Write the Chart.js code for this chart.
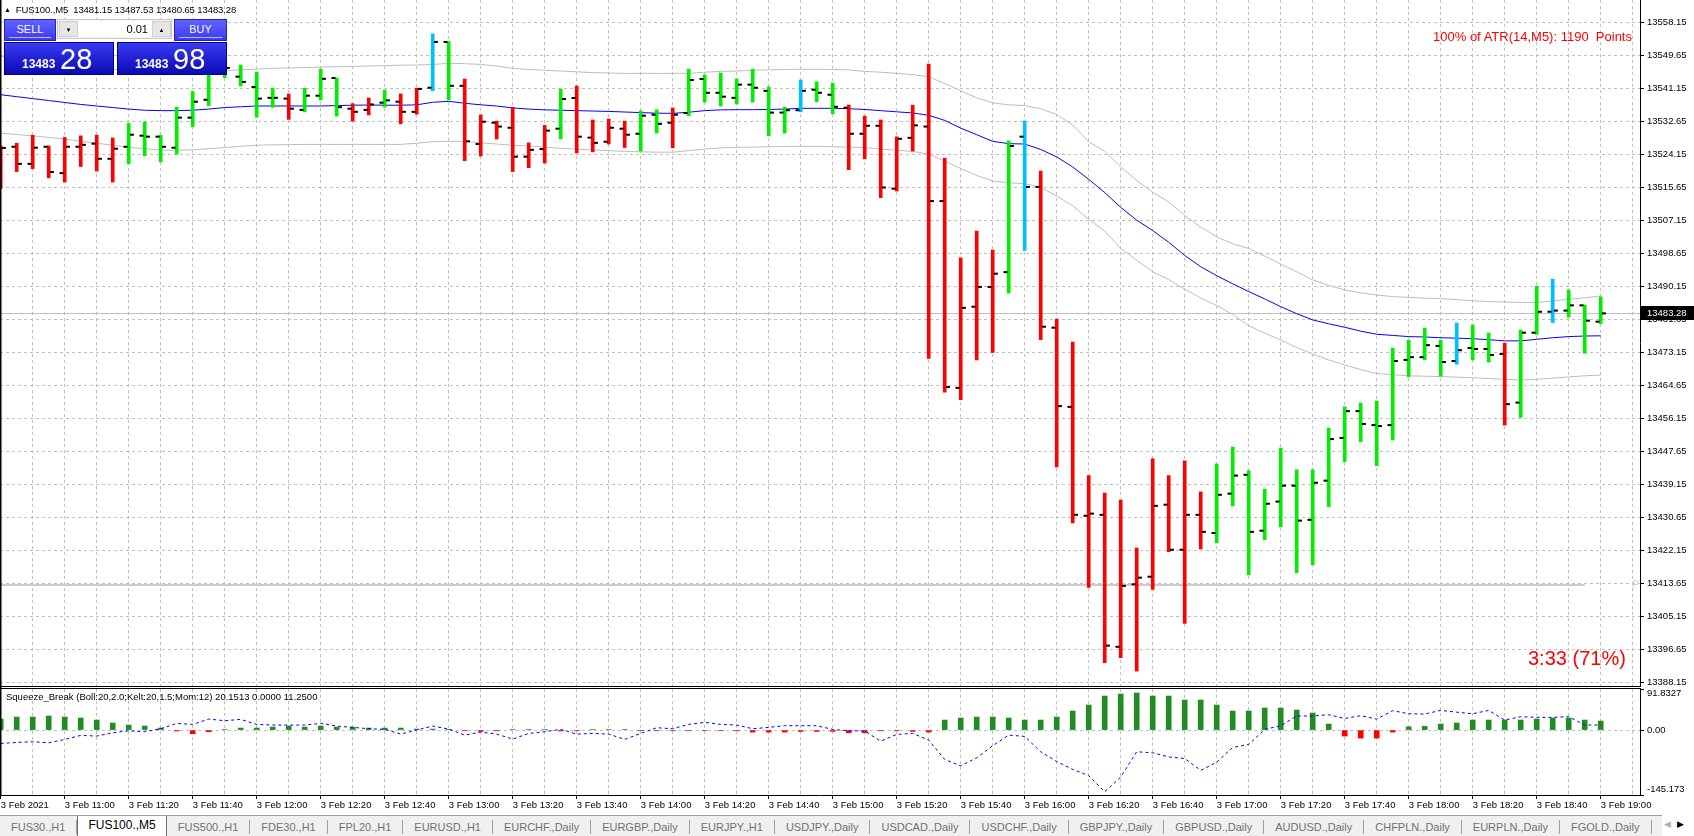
<!DOCTYPE html>
<html lang="en">
<head>
<meta charset="UTF-8">
<title>FUS100.,M5</title>
<script src="https://cdn.jsdelivr.net/npm/chart.js"></script>
<style>
  body { margin:0; width:1694px; height:836px; overflow:hidden; background:#fff; position:relative;
         font-family:"Liberation Sans", Arial, sans-serif; }
  canvas { position:absolute; left:0; }
  #mainChart { top:0; }
  #subChart { top:686px; }
  .txt { position:absolute; white-space:nowrap; z-index:2; }
  #title { left:4px; top:4px; font-size:9.5px; color:#000; letter-spacing:-0.1px; }
  #title b { font-size:7px; font-weight:normal; margin-right:5px; position:relative; top:-1px; }
  #atr { right:62px; top:29px; font-size:13px; color:#ff0000; }
  #timer { left:1528px; top:647px; font-size:20px; color:#ff0000; }
  #subTitle { left:6px; top:691px; font-size:9.5px; color:#000; }
  #trade { position:absolute; left:4px; top:19px; width:223px; height:56px; z-index:3; }
  #trade div { position:absolute; box-sizing:border-box; }
  .tbtn { top:0; height:22px; background:linear-gradient(#6262ff, #3b3bf2); border:1px solid #2222c8;
          color:#fff; font-size:11px; text-align:center; line-height:19px; }
  .tbtn i { position:absolute; left:4px; right:4px; bottom:2px; height:1px; background:#b8b8ff; }
  .lot { top:0; left:53px; width:115px; height:20px; background:#f3f3f3; border:1px solid #c8c8c8; }
  .lot .arr { top:1px; width:19px; height:16px; font-size:6px; color:#000; text-align:center; line-height:16px;
              background:#e6e6e6; border:1px solid #d0d0d0; }
  .lot .field { top:1px; left:20px; width:74px; height:16px; background:#fff; font-size:11px; color:#000;
                text-align:right; padding-right:4px; line-height:16px; }
  .price { top:23px; height:33px; background:linear-gradient(#3a3af2, #0a0ab4); border:1px solid #00008c; color:#fff; }
  .price span { position:absolute; left:17px; bottom:3px; font-size:12px; font-weight:bold; }
  .price em { position:absolute; left:55px; bottom:0px; font-size:29px; font-style:normal; line-height:30px; }
  #tabs { position:absolute; left:0; top:815px; width:1662px; height:21px; background:#f0f0f0;
          border-top:1px solid #a0a0a0; overflow:hidden; white-space:nowrap; font-size:11px; color:#707070; z-index:2; }
  .tab { display:inline-block; padding:0 11px; height:14px; line-height:14px; margin-top:4px;
         border-right:1px solid #a0a0a0; vertical-align:top; }
  .tab.active { background:#fff; color:#000; border:1px solid #707070; border-top:none; margin-top:0;
                height:20px; line-height:19px; font-size:12px; padding:0 10px; }
  #tabArrows { position:absolute; left:1664px; top:819px; font-size:9px; color:#000; z-index:2; }
  #tabArrows span { color:#b0b0b0; margin-right:6px; }
</style>
</head>
<body>
<canvas id="mainChart" width="1694" height="686"></canvas>
<canvas id="subChart" width="1694" height="130"></canvas>

<div id="title" class="txt"><b>&#9650;</b>FUS100.,M5&nbsp; 13481.15 13487.53 13480.65 13483.28</div>
<div id="trade">
  <div class="tbtn" style="left:0;width:52px;">SELL<i></i></div>
  <div class="lot">
    <div class="arr" style="left:1px;">&#9660;</div>
    <div class="field">0.01</div>
    <div class="arr" style="left:94px;">&#9650;</div>
  </div>
  <div class="tbtn" style="left:170px;width:53px;">BUY<i></i></div>
  <div class="price" style="left:0;width:110px;"><span>13483</span><em>28</em></div>
  <div class="price" style="left:113px;width:110px;"><span>13483</span><em>98</em></div>
</div>
<div id="atr" class="txt">100% of ATR(14,M5): 1190&nbsp; Points</div>
<div id="timer" class="txt">3:33 (71%)</div>
<div id="subTitle" class="txt">Squeeze_Break (Boll:20,2.0;Kelt:20,1.5;Mom:12) 20.1513 0.0000 11.2500</div>

<div id="tabs"><span class="tab">FUS30.,H1</span><span class="tab active">FUS100.,M5</span><span class="tab">FUS500.,H1</span><span class="tab">FDE30.,H1</span><span class="tab">FPL20.,H1</span><span class="tab">EURUSD.,H1</span><span class="tab">EURCHF.,Daily</span><span class="tab">EURGBP.,Daily</span><span class="tab">EURJPY.,H1</span><span class="tab">USDJPY.,Daily</span><span class="tab">USDCAD.,Daily</span><span class="tab">USDCHF.,Daily</span><span class="tab">GBPJPY.,Daily</span><span class="tab">GBPUSD.,Daily</span><span class="tab">AUDUSD.,Daily</span><span class="tab">CHFPLN.,Daily</span><span class="tab">EURPLN.,Daily</span><span class="tab">FGOLD.,Daily</span><span class="tab">FO</span></div>
<div id="tabArrows"><span>&#9664;</span>&#9654;</div>

<script>
// M5 bars, 3 Feb 2021 10:40 .. 19:00
const opens = [13526.3, 13526.2, 13521.8, 13526.2, 13519.4, 13526.2, 13527.0, 13523.1, 13526.2, 13529.05,
  13528.8, 13525.95, 13533.7, 13538.3, 13545.2, 13544.25, 13541.6, 13538.8, 13538.6, 13535.7,
  13539.35, 13543.9, 13536.0, 13535.7, 13537.55, 13537.8, 13535.2, 13541.4, 13553.2, 13541.9,
  13526.9, 13532.4, 13531.1, 13523.65, 13525.6, 13530.85, 13538.75, 13528.55, 13527.5, 13530.85,
  13529.55, 13534.45, 13532.4, 13534.9, 13543.65, 13540.1, 13538.8, 13542.2, 13540.6, 13535.0,
  13535.6, 13540.9, 13539.6, 13536.25, 13529.55, 13531.6, 13515.4, 13528.5, 13531.4, 13512.2,
  13464.1, 13485.0, 13490.1, 13493.9, 13528.8, 13515.85, 13479.6, 13459.2, 13431.15, 13431.4,
  13397.4, 13413.5, 13415.45, 13434.0, 13422.4, 13431.4, 13426.7, 13436.85, 13441.7, 13427.3,
  13434.8, 13438.9, 13430.1, 13440.2, 13451.2, 13458.1, 13454.5, 13454.5, 13471.3, 13472.0,
  13474.9, 13471.0, 13474.35, 13474.1, 13472.8, 13460.3, 13478.3, 13483.7, 13484.0, 13485.35,
  13481.15];
const highs = [13526.4, 13527.1, 13529.15, 13526.4, 13528.6, 13529.0, 13529.2, 13528.45, 13532.2, 13532.6,
  13529.15, 13536.35, 13540.4, 13545.5, 13549.5, 13547.25, 13545.45, 13541.3, 13539.8, 13541.3,
  13546.2, 13543.9, 13537.3, 13538.75, 13540.8, 13539.8, 13541.3, 13555.25, 13553.3, 13543.65,
  13534.4, 13532.8, 13536.35, 13527.2, 13531.7, 13541.05, 13541.85, 13533.1, 13533.35, 13532.8,
  13535.4, 13535.7, 13536.2, 13546.2, 13544.7, 13545.2, 13543.65, 13546.2, 13541.6, 13536.4,
  13543.4, 13542.9, 13542.6, 13536.95, 13534.1, 13533.1, 13528.75, 13536.9, 13547.5, 13523.3,
  13497.6, 13504.5, 13499.6, 13527.7, 13532.8, 13519.95, 13481.8, 13475.9, 13441.5, 13437.0,
  13435.2, 13422.85, 13445.8, 13441.5, 13445.3, 13437.3, 13444.5, 13448.85, 13442.75, 13438.0,
  13448.6, 13443.0, 13443.0, 13453.75, 13459.2, 13460.2, 13460.7, 13474.35, 13476.4, 13479.5,
  13476.4, 13480.8, 13480.3, 13478.2, 13475.6, 13479.0, 13490.3, 13492.1, 13489.3, 13485.4,
  13487.53];
const lows = [13515.5, 13519.8, 13520.55, 13518.2, 13517.1, 13521.1, 13519.95, 13517.1, 13521.8, 13523.9,
  13522.3, 13524.3, 13531.4, 13536.8, 13544.0, 13541.85, 13533.8, 13536.35, 13533.25, 13535.2,
  13538.25, 13534.1, 13532.8, 13534.4, 13536.4, 13532.1, 13534.6, 13540.6, 13538.25, 13522.6,
  13523.8, 13528.2, 13519.8, 13520.8, 13522.0, 13528.25, 13524.6, 13524.9, 13526.9, 13526.0,
  13525.1, 13529.7, 13525.95, 13534.2, 13537.7, 13536.7, 13537.2, 13537.7, 13529.0, 13529.7,
  13535.2, 13537.8, 13534.7, 13520.3, 13523.1, 13513.1, 13514.8, 13525.1, 13471.7, 13463.0,
  13461.05, 13471.3, 13473.2, 13488.5, 13499.5, 13476.5, 13443.7, 13429.3, 13412.7, 13393.3,
  13394.6, 13391.15, 13412.2, 13421.9, 13403.45, 13422.6, 13424.2, 13433.7, 13415.95, 13425.0,
  13428.3, 13416.5, 13418.5, 13433.5, 13445.1, 13450.2, 13444.05, 13450.65, 13467.0, 13471.35,
  13467.1, 13470.2, 13471.3, 13470.75, 13454.5, 13456.5, 13477.9, 13480.9, 13482.3, 13473.0,
  13480.65];
const closes = [13525.9, 13521.8, 13525.95, 13519.7, 13526.2, 13526.7, 13523.1, 13525.7, 13529.3, 13528.8,
  13526.2, 13533.7, 13537.8, 13545.0, 13546.5, 13542.9, 13538.6, 13538.8, 13536.0, 13539.35,
  13543.7, 13536.4, 13535.2, 13537.1, 13538.15, 13535.2, 13541.1, 13553.2, 13541.9, 13527.6,
  13532.65, 13531.4, 13523.65, 13525.4, 13530.35, 13538.5, 13528.8, 13527.2, 13531.1, 13529.3,
  13534.2, 13532.1, 13534.45, 13543.4, 13540.1, 13539.1, 13542.2, 13541.4, 13535.0, 13535.6,
  13540.6, 13540.1, 13536.5, 13529.55, 13531.6, 13515.7, 13528.25, 13531.7, 13512.2, 13464.3,
  13484.7, 13490.1, 13493.5, 13526.4, 13515.85, 13479.85, 13459.4, 13431.4, 13431.7, 13397.7,
  13413.1, 13415.2, 13433.7, 13422.4, 13431.4, 13427.0, 13436.55, 13441.5, 13427.0, 13434.25,
  13438.9, 13429.9, 13439.65, 13450.9, 13458.1, 13454.8, 13454.25, 13471.0, 13472.0, 13475.1,
  13470.75, 13473.8, 13474.1, 13472.55, 13459.9, 13478.3, 13483.7, 13484.0, 13485.35, 13481.4,
  13483.28];
// bar colour state from the indicator: d = down, u = up, b = breakout
const barState = ('dddddddd' + 'uuuuuuuuuu' + 'd' + 'uuu' + 'dd' + 'u' + 'dd' + 'b' + 'u' + 'dddddd' +
  'u' + 'dddd' + 'uu' + 'd' + 'uuuuuuu' + 'b' + 'uu' + 'dddddddddd' + 'u' + 'b' + 'ddddddddddd' +
  'uuuuuuuuuuuuuuu' + 'b' + 'uu' + 'd' + 'uu' + 'b' + 'uuu').split('');

const ma = [13539.6, 13539.1, 13538.6, 13538.1, 13537.6, 13537.1, 13536.7, 13536.3, 13535.9, 13535.6,
  13535.5, 13535.5, 13535.6, 13535.9, 13536.3, 13536.5, 13536.7, 13536.7, 13536.7, 13536.7,
  13536.7, 13536.8, 13536.9, 13536.95, 13536.9, 13536.9, 13537.0, 13537.65, 13537.9, 13537.4,
  13537.0, 13536.7, 13536.2, 13535.9, 13535.7, 13535.6, 13535.5, 13535.4, 13535.3, 13535.15,
  13535.0, 13534.85, 13534.8, 13535.1, 13535.5, 13535.7, 13535.75, 13535.75, 13535.8, 13535.9,
  13536.1, 13536.1, 13536.1, 13536.0, 13535.8, 13535.5, 13535.2, 13534.9, 13534.3, 13533.0,
  13531.0, 13529.3, 13527.6, 13527.0, 13526.9, 13525.5, 13523.6, 13521.0, 13517.8, 13514.4,
  13510.6, 13507.3, 13504.6, 13501.6, 13498.2, 13495.3, 13493.0, 13490.9, 13488.9, 13487.0,
  13485.0, 13483.2, 13481.6, 13480.6, 13479.7, 13478.7, 13477.9, 13477.6, 13477.3, 13477.2,
  13477.0, 13476.9, 13476.75, 13476.5, 13476.2, 13476.2, 13476.6, 13477.0, 13477.3, 13477.45,
  13477.5];
const upperBand = [13549.5, 13549.2, 13548.2, 13547.8, 13547.0, 13546.6, 13546.3, 13546.2, 13545.8, 13545.7,
  13545.6, 13545.6, 13545.7, 13545.8, 13545.8, 13546.0, 13546.2, 13546.4, 13546.5, 13546.6,
  13546.7, 13546.8, 13546.9, 13547.0, 13547.1, 13547.2, 13547.25, 13547.4, 13547.7, 13547.6,
  13547.4, 13547.0, 13546.4, 13546.1, 13545.9, 13545.7, 13545.5, 13545.3, 13545.2, 13545.1,
  13545.1, 13545.1, 13545.1, 13545.1, 13545.4, 13545.6, 13545.7, 13545.9, 13546.0, 13546.1,
  13546.15, 13546.15, 13546.1, 13546.0, 13545.6, 13545.4, 13545.1, 13544.8, 13544.2, 13542.5,
  13540.6, 13538.8, 13537.5, 13537.0, 13536.8, 13536.0, 13534.5, 13531.8, 13527.5, 13525.0,
  13521.0, 13517.5, 13514.5, 13512.0, 13508.5, 13505.5, 13503.0, 13501.2, 13500.0, 13498.0,
  13496.0, 13494.0, 13491.9, 13490.5, 13489.3, 13488.6, 13488.0, 13487.6, 13487.4, 13487.2,
  13487.1, 13486.8, 13486.55, 13486.3, 13486.2, 13486.1, 13486.1, 13486.5, 13486.9, 13487.3,
  13487.75];
const lowerBand = [13529.7, 13529.35, 13529.0, 13528.6, 13528.2, 13527.6, 13527.1, 13526.6, 13526.05, 13525.7,
  13525.35, 13525.3, 13525.4, 13525.7, 13526.0, 13526.3, 13526.6, 13526.7, 13526.75, 13526.8,
  13526.8, 13526.8, 13526.8, 13526.8, 13526.8, 13526.8, 13527.1, 13527.5, 13527.6, 13527.6,
  13527.2, 13526.9, 13526.6, 13526.4, 13526.1, 13525.8, 13525.6, 13525.35, 13525.2, 13525.0,
  13524.9, 13524.8, 13524.8, 13525.2, 13525.6, 13525.9, 13526.05, 13526.1, 13526.2, 13526.25,
  13526.3, 13526.3, 13526.2, 13526.1, 13526.0, 13525.6, 13525.3, 13525.0, 13524.3, 13522.5,
  13520.6, 13518.8, 13517.4, 13516.9, 13516.7, 13515.8, 13513.5, 13511.0, 13507.5, 13504.5,
  13500.0, 13497.0, 13494.0, 13492.0, 13489.5, 13487.2, 13485.3, 13483.0, 13480.1, 13478.2,
  13476.4, 13474.5, 13472.8, 13471.3, 13470.0, 13468.8, 13467.8, 13467.5, 13467.2, 13467.1,
  13467.0, 13466.85, 13466.7, 13466.5, 13466.3, 13466.1, 13466.3, 13466.6, 13466.9, 13467.2,
  13467.4];

// Squeeze_Break sub window
const momentum = [24.6, 29.1, 29.1, 31.4, 29.1, 26.9, 22.4, 15.7, 11.2, 9.0,
  4.5, -2.0, -8.2, -3.7, 1.0, 4.5, 4.5, 6.7, 9.0, 6.7,
  9.0, 6.7, 6.7, 4.5, 4.5, 4.5, 2.2, 2.2, 1.5, -1.5,
  -3.0, -1.5, 1.0, 1.0, 1.0, -2.0, -1.5, 1.0, 1.0, 1.0,
  -1.5, -1.0, -1.0, -1.0, -1.0, -1.0, -1.5, -4.5, -4.5, -4.5,
  -3.0, -3.0, -3.0, -6.0, -6.0, -1.5, -1.5, -3.0, -4.5, 22.4,
  26.9, 29.1, 29.1, 26.9, 22.4, 22.4, 29.1, 42.6, 56.0, 76.1,
  80.6, 82.9, 76.1, 76.1, 67.2, 67.2, 56.0, 42.6, 42.6, 49.3,
  49.3, 44.8, 38.1, 13.4, -13.4, -17.9, -17.9, -4.5, 7.4, 8.2,
  13.4, 15.7, 22.4, 22.4, 22.4, 22.4, 24.6, 26.9, 26.9, 22.4,
  20.1513];
const signal = [-29.9, -27.6, -26.1, -28.4, -20.9, -11.9, -13.4, -6.0, -1.5, -3.7,
  3.0, 14.9, 12.7, 24.6, 20.9, 23.9, 12.7, 11.2, 11.2, 11.2,
  14.9, 9.0, 6.0, 3.0, 1.5, -9.0, 0.0, 9.0, 2.2, -11.2,
  -4.5, -9.0, -20.2, -7.5, -3.7, 1.5, -9.0, -7.5, -9.0, -20.9,
  -7.5, 5.2, 3.0, 12.7, 17.2, 12.7, 11.2, 3.0, 6.0, 9.7,
  9.7, 9.7, 1.5, -1.5, -2.2, -24.6, -9.7, -7.5, -22.4, -65.7,
  -80.0, -62.0, -35.0, -11.2, -14.2, -48.5, -70.0, -88.0, -102.0, -138.0,
  -105.0, -48.5, -50.8, -60.0, -63.5, -90.0, -72.0, -38.8, -32.1, 1.5,
  9.7, 31.4, 31.4, 34.3, 26.1, 32.1, 24.6, 43.3, 36.5, 35.8,
  44.0, 40.0, 36.5, 44.0, 22.4, 29.9, 28.4, 28.4, 29.9, 11.25,
  11.25];

const priceTicks = [13388.15, 13396.65, 13405.15, 13413.65, 13422.15, 13430.65, 13439.15, 13447.65,
  13456.15, 13464.65, 13473.15, 13481.65, 13490.15, 13498.65, 13507.15, 13515.65, 13524.15,
  13532.65, 13541.15, 13549.65, 13558.15];
const subTicks = [-145.173, 0, 91.8327];
const subTickLabels = ['-145.173', '0.00', '91.8327'];
const timeLabels = ['3 Feb 2021', '3 Feb 11:00', '3 Feb 11:20', '3 Feb 11:40', '3 Feb 12:00', '3 Feb 12:20',
  '3 Feb 12:40', '3 Feb 13:00', '3 Feb 13:20', '3 Feb 13:40', '3 Feb 14:00', '3 Feb 14:20', '3 Feb 14:40',
  '3 Feb 15:00', '3 Feb 15:20', '3 Feb 15:40', '3 Feb 16:00', '3 Feb 16:20', '3 Feb 16:40', '3 Feb 17:00',
  '3 Feb 17:20', '3 Feb 17:40', '3 Feb 18:00', '3 Feb 18:20', '3 Feb 18:40', '3 Feb 19:00'];
const pivotLevel = 13413.2;   // PP line
const pivotLastBar = 99;

const FONT = '"Liberation Sans", Arial, sans-serif';
Chart.defaults.font.family = FONT;
Chart.defaults.font.size = 9.5;

const idx = opens.map((_, i) => i);
const lastPrice = closes[closes.length - 1];
const stateColor = { d: '#ff0000', u: '#00ee00', b: '#00bfff' };
const GRID = '#c0c0c0';
const X_MIN = -0.044, X_MAX = 102.456;

function evenTicks(scale) {
  const t = [];
  for (let k = 0; k <= X_MAX; k += 2) t.push({ value: k });
  scale.ticks = t;
}
function noPad(s) { s.paddingLeft = s.paddingRight = s.paddingTop = s.paddingBottom = 0; }

const mainDecor = {
  id: 'mainDecor',
  beforeDatasetsDraw(chart) {
    const { ctx, chartArea: a, scales: { x, y } } = chart;
    ctx.save();
    ctx.strokeStyle = '#c0c0c0';
    ctx.lineWidth = 1;
    const py = Math.round(y.getPixelForValue(lastPrice)) + 0.5;
    ctx.beginPath(); ctx.moveTo(a.left, py); ctx.lineTo(a.right, py); ctx.stroke();
    ctx.strokeStyle = '#cbcbcb';
    ctx.lineWidth = 2;
    const pp = Math.round(y.getPixelForValue(pivotLevel));
    ctx.beginPath(); ctx.moveTo(a.left, pp); ctx.lineTo(x.getPixelForValue(pivotLastBar), pp); ctx.stroke();
    ctx.beginPath(); ctx.rect(a.left, a.top, a.right - a.left, a.bottom - a.top); ctx.clip();
    ctx.fillStyle = '#cfcfcf';
    ctx.font = '11px ' + FONT;
    ctx.textBaseline = 'middle';
    ctx.fillText('PP', a.right - 8, pp);
    ctx.restore();
  },
  afterDraw(chart) {
    const { ctx, chartArea: a, scales: { y } } = chart;
    ctx.save();
    ctx.fillStyle = '#000';
    ctx.fillRect(0, 0, 1.5, a.bottom);
    const py = Math.round(y.getPixelForValue(lastPrice));
    ctx.fillRect(a.right + 1, py - 7, 53, 14);
    ctx.fillStyle = '#fff';
    ctx.font = '9.5px ' + FONT;
    ctx.textBaseline = 'middle';
    ctx.fillText(lastPrice.toFixed(2), a.right + 7, py + 0.5);
    ctx.restore();
  }
};

const subDecor = {
  id: 'subDecor',
  afterDraw(chart) {
    const { ctx, chartArea: a, scales: { y } } = chart;
    ctx.save();
    ctx.fillStyle = '#000';
    ctx.fillRect(0, 0, a.right + 1, 1);
    ctx.fillRect(0, 2, a.right + 1, 1);
    ctx.fillRect(0, 0, 1.5, a.bottom);
    ctx.font = '9.5px ' + FONT;
    ctx.textBaseline = 'middle';
    subTicks.forEach((v, i) => {
      let py = y.getPixelForValue(v);
      if (i === subTicks.length - 1) py += 4.5;
      if (i === 0) py -= 6;
      ctx.fillText(subTickLabels[i], a.right + 7, py);
    });
    ctx.restore();
  }
};

new Chart(document.getElementById('mainChart'), {
  type: 'bar',
  data: {
    datasets: [
      {
        type: 'bar',
        data: idx.map(i => ({ x: i, y: [lows[i], highs[i]] })),
        backgroundColor: idx.map(i => stateColor[barState[i]]),
        barThickness: 3, borderWidth: 0, grouped: false, order: 1
      },
      {
        type: 'line', showLine: false,
        data: idx.map(i => ({ x: i - 0.2, y: opens[i] })),
        pointStyle: 'line', pointRadius: 2, pointBorderWidth: 2, pointBorderColor: '#000', order: 0
      },
      {
        type: 'line', showLine: false,
        data: idx.map(i => ({ x: i + 0.2, y: closes[i] })),
        pointStyle: 'line', pointRadius: 2, pointBorderWidth: 2, pointBorderColor: '#000', order: 0
      },
      {
        type: 'line', data: idx.map(i => ({ x: i, y: ma[i] })),
        borderColor: '#0000ff', borderWidth: 1, pointRadius: 0, order: 3
      },
      {
        type: 'line', data: idx.map(i => ({ x: i, y: upperBand[i] })),
        borderColor: '#bdbdbd', borderWidth: 1, pointRadius: 0, order: 4
      },
      {
        type: 'line', data: idx.map(i => ({ x: i, y: lowerBand[i] })),
        borderColor: '#bdbdbd', borderWidth: 1, pointRadius: 0, order: 4
      }
    ]
  },
  options: {
    responsive: false, animation: false, events: [],
    layout: { padding: 0, autoPadding: false },
    plugins: { legend: { display: false }, tooltip: { enabled: false } },
    scales: {
      x: {
        type: 'linear', min: X_MIN, max: X_MAX, offset: false,
        afterBuildTicks: evenTicks,
        ticks: { display: false },
        grid: { color: GRID, drawTicks: false, offset: false },
        border: { display: false, dash: [3, 3] },
        afterFit: s => { s.height = 0; noPad(s); }
      },
      y: {
        type: 'linear', position: 'right', min: 13387.3, max: 13564.0,
        afterBuildTicks: s => { s.ticks = priceTicks.map(v => ({ value: v })); },
        ticks: { callback: v => v.toFixed(2), color: '#000', padding: 3, autoSkip: false },
        grid: { color: GRID, tickLength: 4, tickColor: '#000', tickBorderDash: [] },
        border: { display: true, color: '#000', dash: [3, 3] },
        afterFit: s => { s.width = 54; noPad(s); }
      }
    }
  },
  plugins: [mainDecor]
});

new Chart(document.getElementById('subChart'), {
  type: 'bar',
  data: {
    datasets: [
      {
        type: 'bar',
        data: idx.map(i => ({ x: i, y: momentum[i] })),
        backgroundColor: idx.map(i => momentum[i] >= 0 ? '#228b22' : '#ff0000'),
        barThickness: 5, borderWidth: 0, grouped: false, order: 2
      },
      {
        type: 'line', data: idx.map(i => ({ x: i, y: signal[i] })),
        borderColor: '#0000ff', borderWidth: 1, borderDash: [3, 3], pointRadius: 0, order: 1
      }
    ]
  },
  options: {
    responsive: false, animation: false, events: [],
    layout: { padding: { top: 3, left: 0, right: 0, bottom: 0 }, autoPadding: false },
    plugins: { legend: { display: false }, tooltip: { enabled: false } },
    scales: {
      x: {
        type: 'linear', min: X_MIN, max: X_MAX, offset: false,
        afterBuildTicks: evenTicks,
        ticks: {
          autoSkip: false, maxRotation: 0, minRotation: 0, align: 'start', padding: 1, color: '#000',
          callback: v => (v % 4 === 0 ? timeLabels[v / 4] : '')
        },
        grid: {
          color: GRID, offset: false, tickLength: 4, tickBorderDash: [],
          tickColor: c => (c.tick && c.tick.value % 4 === 0 ? '#000' : 'rgba(0,0,0,0)')
        },
        border: { display: true, color: '#000', dash: [3, 3] },
        afterFit: s => { s.height = 21; noPad(s); }
      },
      y: {
        type: 'linear', position: 'right', min: -145.173, max: 91.8327,
        afterBuildTicks: s => { s.ticks = subTicks.map(v => ({ value: v })); },
        ticks: { display: false },
        grid: {
          color: c => (c.tick && c.tick.value === 0 ? GRID : 'rgba(0,0,0,0)'),
          tickLength: 4, tickColor: '#000', tickBorderDash: []
        },
        border: { display: true, color: '#000', dash: [3, 3] },
        afterFit: s => { s.width = 54; noPad(s); }
      }
    }
  },
  plugins: [subDecor]
});
</script>
</body>
</html>
